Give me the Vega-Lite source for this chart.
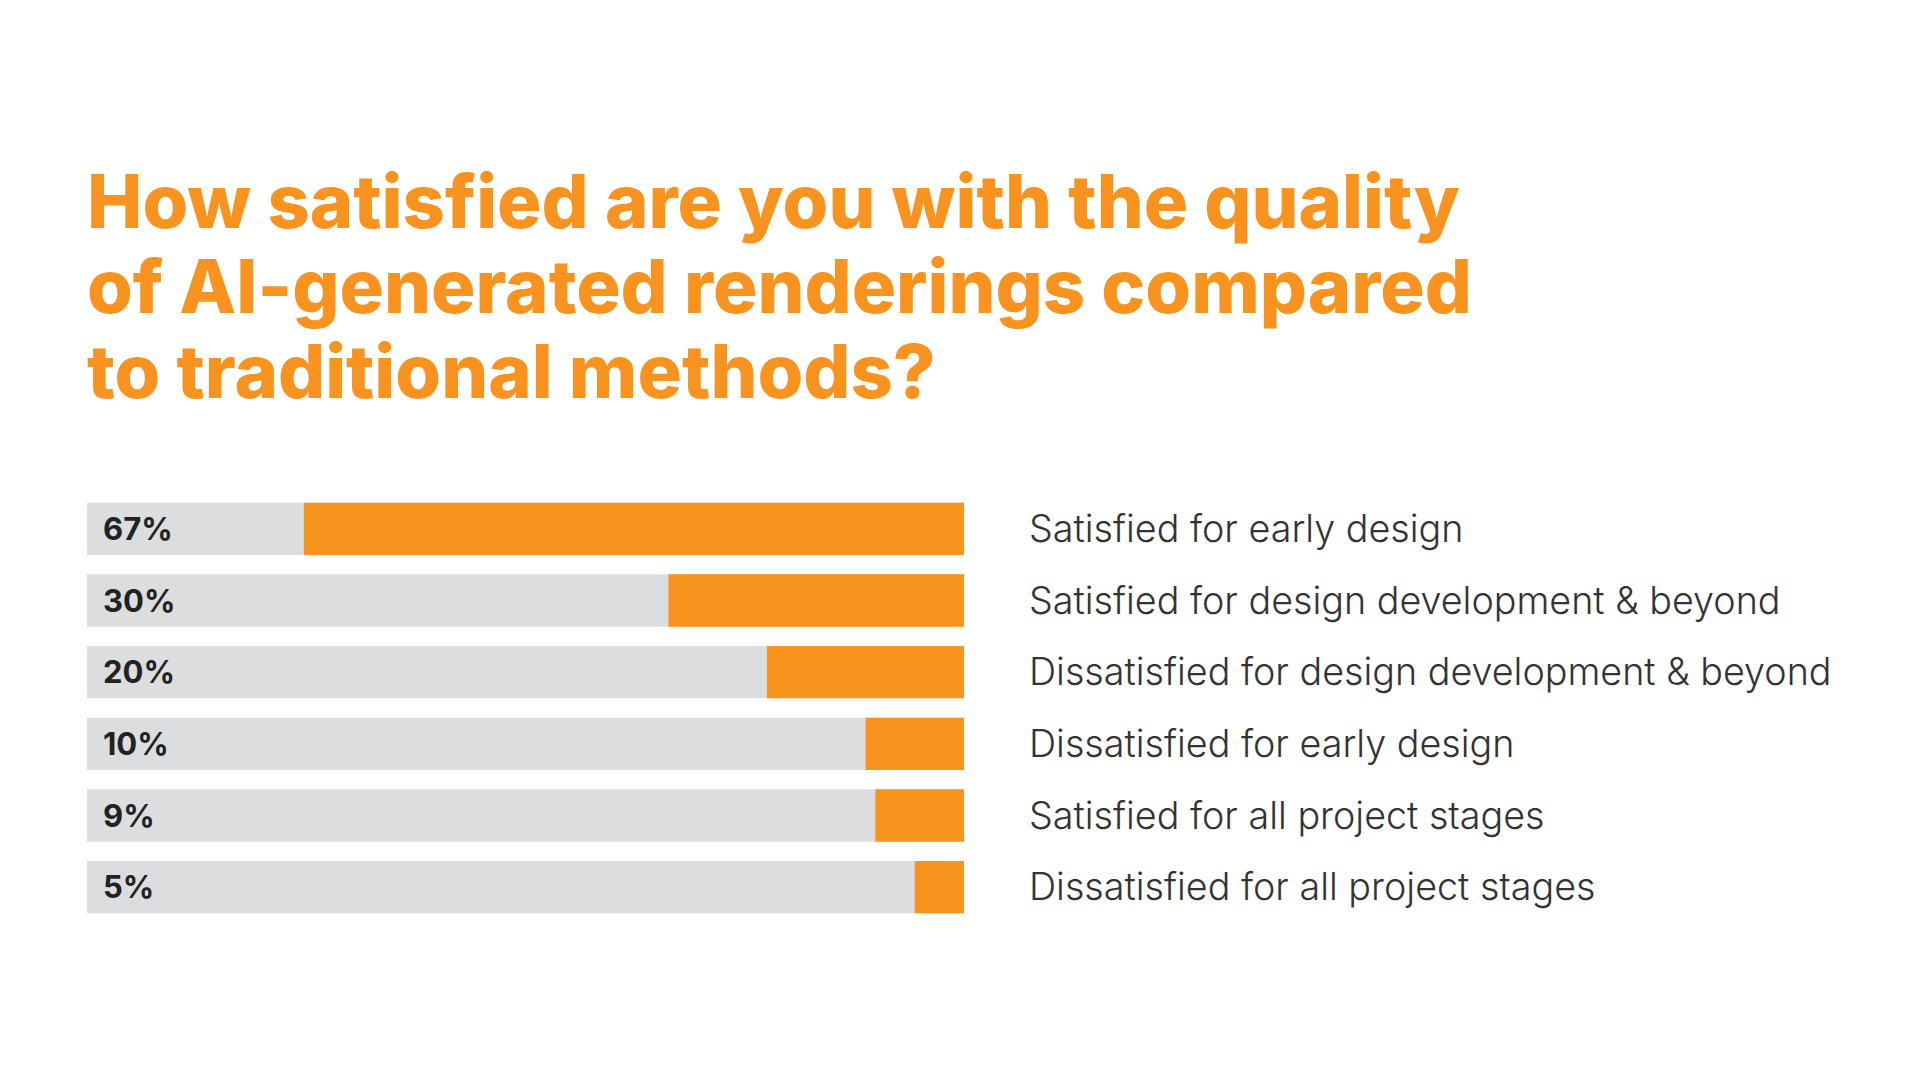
{
  "$schema": "https://vega.github.io/schema/vega-lite/v6.json",
  "autosize": {"type": "none"},
  "width": 877,
  "height": 430,
  "padding": {"left": 87, "top": 493, "right": 956, "bottom": 157},
  "background": "white",
  "config": {"view": {"stroke": null}},
  "title": {
    "text": ["How satisfied are you with the quality", "of AI-generated renderings compared", "to traditional methods?"],
    "anchor": "start",
    "frame": "group",
    "font": "Inter",
    "fontSize": 74,
    "fontWeight": 800,
    "color": "#F7931E",
    "lineHeight": 85,
    "offset": 79
  },
  "data": {
    "values": [
      {"label": "Satisfied for early design", "value": 67, "pct": "67%"},
      {"label": "Satisfied for design development & beyond", "value": 30, "pct": "30%"},
      {"label": "Dissatisfied for design development & beyond", "value": 20, "pct": "20%"},
      {"label": "Dissatisfied for early design", "value": 10, "pct": "10%"},
      {"label": "Satisfied for all project stages", "value": 9, "pct": "9%"},
      {"label": "Dissatisfied for all project stages", "value": 5, "pct": "5%"}
    ]
  },
  "encoding": {
    "y": {"field": "label", "type": "nominal", "sort": null, "axis": null,
          "scale": {"paddingInner": 0.27, "paddingOuter": 0.135}}
  },
  "layer": [
    {
      "mark": {"type": "bar", "color": "#DCDDDF"},
      "encoding": {
        "x": {"datum": 89, "type": "quantitative", "axis": null,
              "scale": {"domain": [0, 89], "reverse": true, "nice": false, "zero": true}},
        "x2": {"datum": 0}
      }
    },
    {
      "mark": {"type": "bar", "color": "#F7941D"},
      "encoding": {
        "x": {"field": "value", "type": "quantitative"},
        "x2": {"datum": 0}
      }
    },
    {
      "mark": {"type": "text", "align": "left", "baseline": "middle", "dx": 16, "dy": 2,
               "font": "Inter", "fontSize": 31, "fontWeight": 700, "color": "#222222"},
      "encoding": {
        "x": {"datum": 89, "type": "quantitative"},
        "text": {"field": "pct"}
      }
    },
    {
      "mark": {"type": "text", "align": "left", "baseline": "middle", "dx": 65, "dy": 2,
               "font": "Inter", "fontSize": 37.7, "fontWeight": 300, "color": "#333333"},
      "encoding": {
        "x": {"datum": 0, "type": "quantitative"},
        "text": {"field": "label"}
      }
    }
  ]
}
